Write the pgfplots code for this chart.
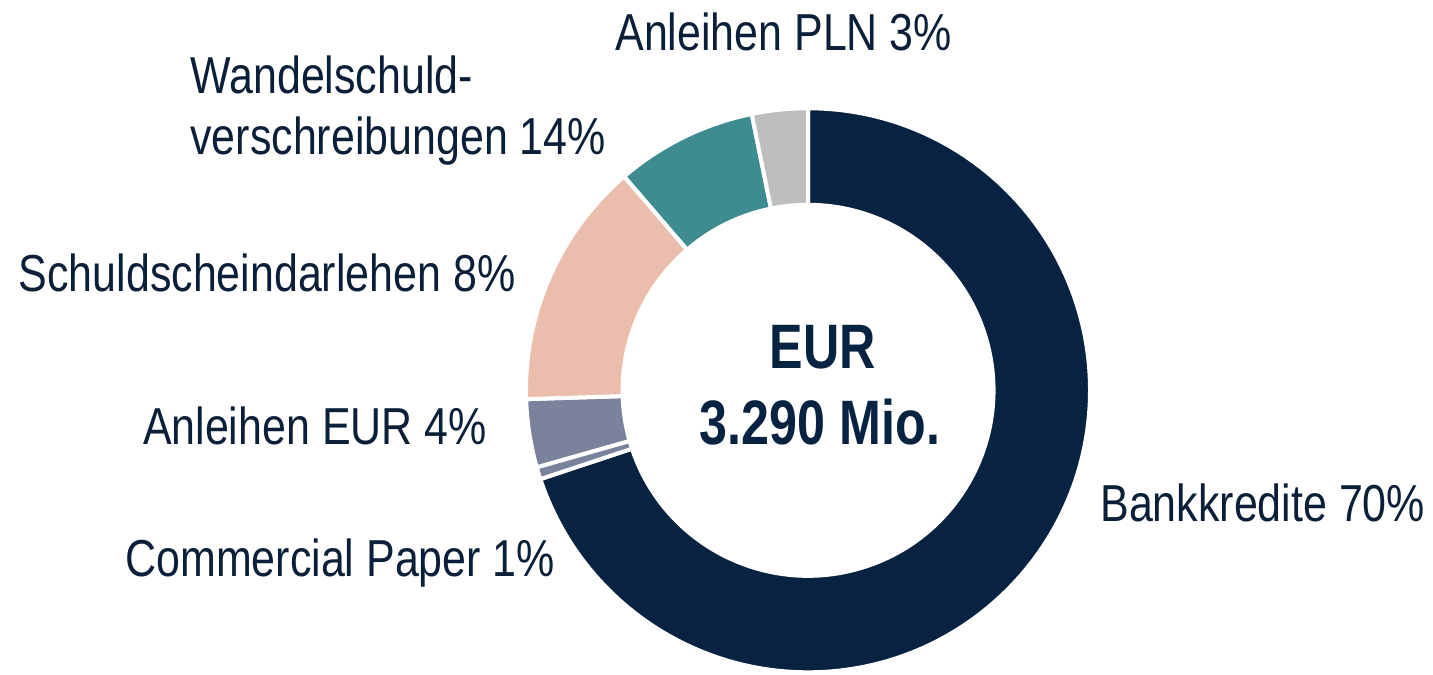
\documentclass[border=0pt]{standalone}
\usepackage{fontspec}
\setmainfont{Liberation Sans}[FakeStretch=0.826]
\newfontfamily\boldfam{Liberation Sans Bold}[FakeStretch=0.8]
\usepackage{pgfplots}
\pgfplotsset{compat=1.18}
\definecolor{cNavy}{HTML}{082341}
\definecolor{cSlate}{HTML}{7A839B}
\definecolor{cPink}{HTML}{EABDAD}
\definecolor{cTeal}{HTML}{3E8B90}
\definecolor{cGrey}{HTML}{BEBEBE}
\definecolor{cText}{HTML}{0B2038}
\begin{document}
\begin{tikzpicture}
\begin{axis}[
  width=716.5bp, height=335.5bp, scale only axis,
  xmin=0, xmax=716.5, ymin=0, ymax=335.5,
  hide axis, clip=false,
]
\addplot[draw=none] coordinates {(0,0) (716.5,335.5)};
\def\cumul{0}
\foreach \v/\c in {69.9/cNavy, 0.7/cSlate, 3.9/cSlate, 14.2/cPink, 8.1/cTeal, 3.2/cGrey} {
  \pgfmathsetmacro\a{90-3.6*\cumul}
  \pgfmathsetmacro\b{90-3.6*(\cumul+\v)}
  \pgfmathsetmacro\bb{\b+180}
  \edef\temp{\noexpand\fill[\c,draw=white,line width=2bp] (axis cs:404,140.35) ++(\a:141bp) arc[start angle=\a, end angle=\b, radius=141bp] -- ++(\bb:48.25bp) arc[start angle=\b, end angle=\a, radius=92.75bp] -- cycle;}
  \temp
  \pgfmathsetmacro\newc{\cumul+\v}
  \global\let\cumul\newc
}
\begin{scope}[every node/.style={text=cText, font=\fontsize{26bp}{31bp}\selectfont, inner sep=0pt}]
\node[anchor=base west] at (axis cs:307.5,310) {Anleihen PLN 3\%};
\node[anchor=base west] at (axis cs:95,288.9) {Wandelschuld-};
\node[anchor=base west] at (axis cs:95,258) {verschreibungen 14\%};
\node[anchor=base west] at (axis cs:9.2,189.6) {Schuldscheindarlehen 8\%};
\node[anchor=base west] at (axis cs:71.3,113) {Anleihen EUR 4\%};
\node[anchor=base west] at (axis cs:62.5,47.2) {Commercial Paper 1\%};
\node[anchor=base west] at (axis cs:550,74.7) {Bankkredite 70\%};
\end{scope}
\begin{scope}[every node/.style={text=cNavy, font=\boldfam\fontsize{31.4bp}{37bp}\selectfont, inner sep=0pt}]
\node[anchor=base] at (axis cs:411.5,151.4) {EUR};
\node[anchor=base] at (axis cs:410,113) {3.290 Mio.};
\end{scope}
\end{axis}
\end{tikzpicture}
\end{document}
